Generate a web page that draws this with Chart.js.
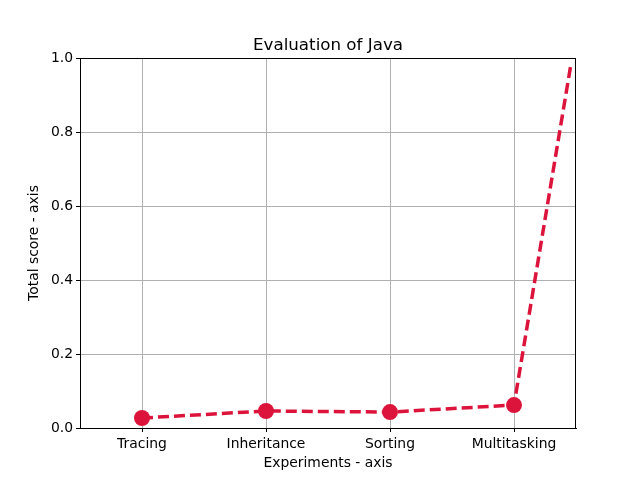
<!DOCTYPE html>
<html>
<head>
<meta charset="utf-8">
<script src="https://cdn.jsdelivr.net/npm/chart.js@4/dist/chart.umd.min.js"></script>
<style>
html,body{margin:0;padding:0;background:#fff;}
#wrap{width:640px;height:480px;}
</style>
</head>
<body>
<div id="wrap"><canvas id="c" width="640" height="480"></canvas></div>
<script>
const categories = ["Tracing", "Inheritance", "Sorting", "Multitasking"];
const xPositions = [0, 1, 2, 3, 3.46];
const scores = [0.027, 0.046, 0.043, 0.062, 0.985];
const markerSizes = [8, 8, 8, 8, 0];
const yTicks = [0, 0.2, 0.4, 0.6, 0.8, 1.0];
const chartTitle = "Evaluation of Java";
const xTitle = "Experiments - axis";
const yTitle = "Total score - axis";

const FONT = "'DejaVu Sans', sans-serif";
const COLOR = "#DC143C";

const points = xPositions.map((x, i) => ({x: x, y: scores[i]}));

const framePlugin = {
  id: 'frame',
  afterDraw(chart) {
    const {ctx, chartArea: a} = chart;
    ctx.save();
    ctx.strokeStyle = '#000';
    ctx.lineWidth = 1;
    ctx.strokeRect(a.left + 0.5, a.top + 0.5, a.right - a.left - 1, a.bottom - a.top);
    ctx.fillStyle = '#000';
    ctx.font = "16.7px " + FONT;
    ctx.textAlign = 'center';
    ctx.textBaseline = 'alphabetic';
    ctx.fillText(chartTitle, (a.left + a.right) / 2, a.top - 8);
    ctx.restore();
  }
};

new Chart(document.getElementById('c'), {
  type: 'line',
  data: {
    datasets: [{
      data: points,
      borderColor: COLOR,
      backgroundColor: COLOR,
      borderWidth: 3.5,
      borderDash: [11, 5],
      borderCapStyle: 'butt',
      pointRadius: markerSizes,
      pointHoverRadius: markerSizes,
      pointBackgroundColor: COLOR,
      pointBorderColor: COLOR,
      pointBorderWidth: 0,
      tension: 0,
      fill: false
    }]
  },
  options: {
    responsive: false,
    animation: false,
    devicePixelRatio: 1,
    layout: {padding: {top: 58, right: 64, left: 0, bottom: 0}},
    plugins: {legend: {display: false}, tooltip: {enabled: false}},
    scales: {
      x: {
        type: 'linear',
        min: -0.5,
        max: 3.5,
        afterBuildTicks(scale) {
          scale.ticks = categories.map((c, i) => ({value: i}));
        },
        afterFit(scale) { scale.height = 52; },
        ticks: {
          callback: (v) => categories[v] !== undefined ? categories[v] : '',
          font: {family: FONT, size: 13.9},
          color: '#000',
          padding: 4,
          maxRotation: 0,
          autoSkip: false
        },
        grid: {color: '#b0b0b0', lineWidth: 1, tickLength: 4, tickColor: '#000', drawTicks: true},
        border: {color: '#000', width: 1},
        title: {display: true, text: xTitle, font: {family: FONT, size: 13.9}, color: '#000', padding: {top: 0, bottom: 8.5}}
      },
      y: {
        min: 0,
        max: 1,
        afterBuildTicks(scale) {
          scale.ticks = yTicks.map(v => ({value: v}));
        },
        afterFit(scale) { scale.width = 80; },
        ticks: {
          callback: (v) => v.toFixed(1),
          font: {family: FONT, size: 13.9},
          color: '#000',
          padding: 3
        },
        grid: {color: '#b0b0b0', lineWidth: 1, tickLength: 4, tickColor: '#000'},
        border: {color: '#000', width: 1},
        title: {display: true, text: yTitle, font: {family: FONT, size: 13.9}, color: '#000', padding: {top: 26.5, bottom: 0}}
      }
    }
  },
  plugins: [framePlugin]
});
</script>
</body>
</html>
